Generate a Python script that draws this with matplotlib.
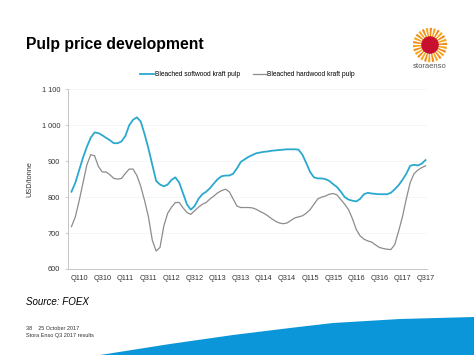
import numpy as np
import matplotlib
matplotlib.use("Agg")
import matplotlib.pyplot as plt
from matplotlib.patches import Polygon, Circle, Wedge

plt.rcParams['font.family'] = ['Liberation Sans', 'DejaVu Sans']

# monthly prices, Jan 2010 .. Sep 2017 (USD/tonne)
softwood = [815, 840, 875, 910, 940, 965, 980, 978, 972, 965, 958, 950,
            950, 955, 970, 1000, 1015, 1022, 1010, 975, 935, 890, 845, 835,
            830, 835, 848, 855, 840, 810, 780, 765, 775, 795, 808, 815,
            825, 838, 850, 858, 860, 860, 865, 880, 898, 905, 912, 917,
            922, 924, 926, 927, 929, 930, 931, 932, 933, 933, 933, 932,
            918, 895, 870, 855, 852, 852, 850, 845, 836, 828, 815, 800,
            793, 790, 788, 795, 808, 812, 810, 809, 808, 808, 808, 812,
            822, 833, 848, 865, 887, 890, 888, 893, 903]
hardwood = [718, 745, 790, 840, 890, 918, 915, 885, 870, 870, 862, 852,
            850, 852, 866, 878, 878, 860, 830, 790, 745, 680, 650, 660,
            720, 755, 772, 785, 785, 770, 757, 752, 762, 772, 780, 785,
            795, 803, 812, 818, 822, 815, 795, 775, 771, 771, 771, 770,
            766, 760, 755, 748, 740, 733, 728, 726, 728, 735, 742, 745,
            748, 755, 765, 780, 795, 800, 803, 808, 810, 806, 793, 780,
            765, 740, 710, 692, 683, 678, 675, 667, 660, 657, 655, 654,
            668, 705, 745, 795, 840, 865, 875, 882, 887]
quarter_labels = ["Q110", "Q310", "Q111", "Q311", "Q112", "Q312", "Q113", "Q313",
                  "Q114", "Q314", "Q115", "Q315", "Q116", "Q316", "Q117", "Q317"]
label_months = [2 + 6 * i for i in range(len(quarter_labels))]
yticks = [600, 700, 800, 900, 1000, 1100]

months = np.arange(len(softwood))

fig = plt.figure(figsize=(4.74, 3.55), dpi=100)
ax = fig.add_axes([0.1435, 0.2423, 0.7575, 0.5062])

ax.plot(months, softwood, color="#2aa9cf", lw=1.3, label="Bleached softwood kraft pulp")
ax.plot(months, hardwood, color="#8c8c8c", lw=0.9, label="Bleached hardwood kraft pulp")

ax.set_xlim(-0.9, 92.4)
ax.set_ylim(600, 1100)
ax.set_yticks(yticks)
ax.set_yticklabels(["{:,}".format(v).replace(",", " ") for v in yticks])
ax.set_xticks(label_months)
ax.set_xticklabels(quarter_labels)
ax.tick_params(axis="both", labelsize=5.3, colors="#333333", length=2, width=0.5)
ax.tick_params(axis="x", length=0, pad=4)
ax.tick_params(axis="both", color="#bbbbbb")
ax.set_ylabel("USD/tonne", fontsize=5.3, color="#333333", labelpad=6)
ax.grid(axis="y", color="#f2f2f2", lw=0.5)
ax.set_axisbelow(True)
for s in ["top", "right"]:
    ax.spines[s].set_visible(False)
ax.spines["left"].set_color("#bbbbbb")
ax.spines["bottom"].set_color("#bbbbbb")
ax.spines["left"].set_linewidth(0.6)
ax.spines["bottom"].set_linewidth(0.6)

ax.legend(loc="lower center", bbox_to_anchor=(0.5, 1.03), ncol=2, frameon=False,
          fontsize=4.8, handlelength=2.0, handletextpad=0.15, columnspacing=2.0)

fig.text(26 / 474, 1 - 44 / 355, "Pulp price development", fontsize=11.3,
         fontweight="bold", va="center", ha="left")
fig.text(26 / 474, 1 - 302 / 355, "Source: FOEX", fontsize=7, style="italic",
         va="center", ha="left")
fig.text(26 / 474, 1 - 328 / 355, "38    25 October 2017", fontsize=4,
         va="center", ha="left", color="#333333")
fig.text(26 / 474, 1 - 336 / 355, "Stora Enso Q3 2017 results", fontsize=4,
         va="center", ha="left", color="#333333")

# blue swoosh at the bottom
sx = np.array([100, 170, 233, 290, 333, 400, 474, 474, 100])
sy = np.array([355, 344, 335, 328, 323, 319, 317, 355, 355])
fig.patches.append(Polygon(np.column_stack([sx / 474, 1 - sy / 355]), closed=True,
                           transform=fig.transFigure, facecolor="#0a96d8",
                           edgecolor="none"))

# logo
lx, ly, r = 430, 45, 18
lax = fig.add_axes([(lx - r) / 474, 1 - (ly + r) / 355, 2 * r / 474, 2 * r / 355])
lax.set_xlim(-1, 1)
lax.set_ylim(-1, 1)
lax.set_aspect("equal")
lax.axis("off")
for k in range(26):
    ang = k * 360 / 26
    lax.add_patch(Wedge((0, 0), 0.95, ang, ang + 8, width=0.55,
                        facecolor="#f7a51d" if k % 2 else "#f08c1c",
                        edgecolor="none"))
lax.add_patch(Circle((0, 0), 0.45, color="#c8102e"))
fig.text(lx / 474, 1 - 67 / 355, "storaenso", fontsize=5.5, ha="center",
         va="center", color="#555555")

fig.savefig("out.png", dpi=100)
